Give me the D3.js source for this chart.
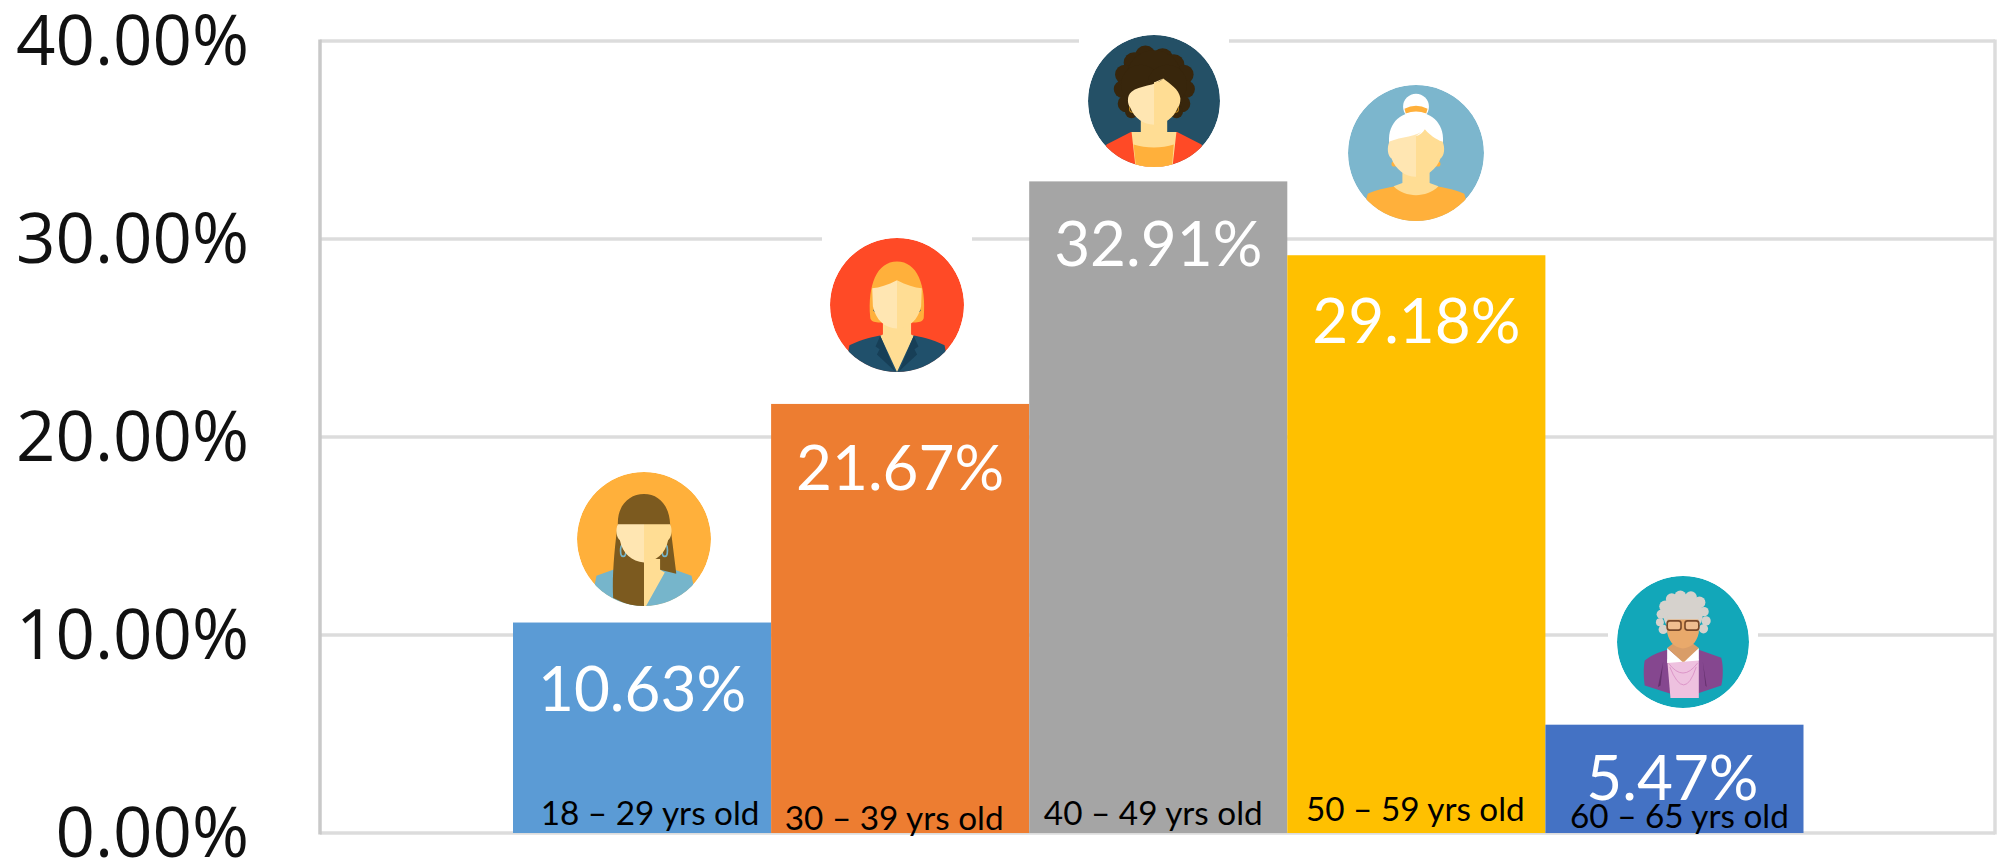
<!DOCTYPE html>
<html><head><meta charset="utf-8">
<script src="https://cdn.jsdelivr.net/npm/d3@7/dist/d3.min.js"></script>
<style>html,body{margin:0;background:#fff}svg{display:block}</style></head>
<body><svg id="c" width="1997" height="864"></svg>
<script>
// ---- data ----
const categories = ["18 – 29 yrs old","30 – 39 yrs old","40 – 49 yrs old","50 – 59 yrs old","60 – 65 yrs old"];
const shares = [10.63,21.67,32.91,29.18,5.47];
const yTicks = [0,10,20,30,40];
const barColors = ["#5B9BD5","#ED7D31","#A5A5A5","#FFC000","#4472C4"];

// ---- layout ----
const svg = d3.select("#c");
const x = d3.scaleBand().domain(categories).range([513,1803.5]).padding(0);
const y = d3.scaleLinear().domain([0,40]).range([833,41]);
const SK1="#FFE6B2", SK2="#FFDD94", ORG="#FFB03B";

// per-bar hand placement relative to the bar centre / top / baseline
const valueOffset = [[0,88],[0,86],[0,85],[0,88],[-2,75]];
const catOffset   = [[8,-8],[-6,-3],[-5,-8],[-1,-12],[5,-5]];
const avatarPos   = [[644,539,67],[897,305,67],[1154,101,66],[1416,153,68],[1683,642,66]];
const haloHalf = 75;

// gridlines + frame
const g = svg.append("g");
g.selectAll("line.grid").data(yTicks).join("line").attr("class","grid")
  .attr("x1",320).attr("x2",1995).attr("y1",d=>y(d)).attr("y2",d=>y(d))
  .attr("stroke","#dcdcdc").attr("stroke-width",3.5);
g.append("line").attr("x1",320).attr("x2",320).attr("y1",39.5).attr("y2",834.5).attr("stroke","#c9c9c9").attr("stroke-width",3.5);
g.append("line").attr("x1",1995).attr("x2",1995).attr("y1",39.5).attr("y2",834.5).attr("stroke","#dcdcdc").attr("stroke-width",3.5);

// y axis labels through d3.axisLeft
const ax = svg.append("g").attr("transform","translate(249,2)")
  .call(d3.axisLeft(y).tickValues(yTicks).tickSize(0).tickPadding(0).tickFormat(d=>d3.format(".2f")(d)+"%"));
ax.select(".domain").remove();
ax.selectAll("text").attr("font-family","'Open Sans','Noto Sans',sans-serif").attr("font-size",69)
  .attr("fill","#111").attr("dy","0.31em");

// white halos of the pasted pictures (interrupt the gridlines)
svg.append("g").selectAll("rect").data(avatarPos).join("rect")
  .attr("x",d=>d[0]-haloHalf).attr("y",d=>d[1]-haloHalf).attr("width",haloHalf*2).attr("height",haloHalf*2).attr("fill","#fff");

// bars
svg.append("g").selectAll("rect").data(shares).join("rect")
  .attr("x",(d,i)=>x(categories[i])).attr("y",d=>y(d))
  .attr("width",x.bandwidth()).attr("height",d=>y(0)-y(d))
  .attr("fill",(d,i)=>barColors[i]);

// value labels
svg.append("g").selectAll("text").data(shares).join("text")
  .attr("x",(d,i)=>x(categories[i])+x.bandwidth()/2+valueOffset[i][0])
  .attr("y",(d,i)=>y(d)+valueOffset[i][1])
  .attr("text-anchor","middle").attr("font-family","Lato,sans-serif").attr("font-size",62)
  .attr("fill","#fff").text(d=>d.toFixed(2)+"%");

// category labels
svg.append("g").selectAll("text").data(categories).join("text")
  .attr("x",(d,i)=>x(d)+x.bandwidth()/2+catOffset[i][0])
  .attr("y",(d,i)=>y(0)+catOffset[i][1])
  .attr("text-anchor","middle").attr("font-family","Lato,sans-serif").attr("font-size",33.3)
  .attr("fill","#000").text(d=>d);

// ---- avatars (drawn in a unit of r = 100) ----
function P(s,d,f){return s.append("path").attr("d",d).attr("fill",f);}
function C(s,cx,cy,r,f){return s.append("circle").attr("cx",cx).attr("cy",cy).attr("r",r).attr("fill",f);}
function ring(s,cx,cy,rx,ry,c,w){return s.append("ellipse").attr("cx",cx).attr("cy",cy).attr("rx",rx).attr("ry",ry).attr("fill","none").attr("stroke",c).attr("stroke-width",w);}
const painters = [
 s=>{ // long brown hair
  P(s,"M-71,55 L-44,45 L44,45 L71,55 L80,100 L-80,100Z","#76B5CB");
  P(s,"M-39,-22 C-40,-50 -22,-67 0,-67 C22,-67 38,-50 39,-22 L48,50 L48,52 L24,46 L0,40 L0,102 C-20,102 -36,92 -46,88 C-48,60 -44,10 -39,-22Z","#7C5A1F");
  P(s,"M0,30 L24,30 L24,46 L31,50 L2,102 L0,102Z",SK2);
  ring(s,-31,17,4,9,"#76B5CB",2.5); ring(s,31,17,4,9,"#76B5CB",2.5);
  P(s,"M0,-22 L-39,-22 C-43,-14 -41,-2 -36,2 C-32,22 -18,34 0,35Z",SK1);
  P(s,"M0,-22 L39,-22 C43,-14 41,-2 36,2 C32,22 18,34 0,35Z",SK2);
 },
 s=>{ // blonde bob, navy jacket
  P(s,"M-40,18 C-44,-30 -30,-65 0,-65 C30,-65 44,-30 40,18 C40,24 34,26 28,26 L-28,26 C-34,26 -40,24 -40,18Z",ORG);
  P(s,"M-71,60 C-50,50 -35,47 -22,45 L22,45 C35,47 50,50 71,60 L80,110 L-80,110Z","#20506B");
  P(s,"M-21,25 L21,25 L21,44 L25,46 L0,100 L-25,46 L-21,44Z",SK2);
  P(s,"M-25,46 L-32,62 L-26,66 L-30,74 L-3,99Z","#173F57");
  P(s,"M25,46 L32,62 L26,66 L30,74 L3,99Z","#173F57");
  C(s,-32,8,3,"#20506B"); C(s,32,8,3,"#20506B");
  P(s,"M0,-37 C-14,-30 -26,-26 -37,-25 L-36,2 C-32,22 -18,35 0,35Z",SK1);
  P(s,"M0,-37 C14,-30 26,-26 37,-25 L36,2 C32,22 18,35 0,35Z",SK2);
 },
 s=>{ // dark curls, red jacket
  [[-13,-68,16],[13,-64,16],[-30,-58,16],[30,-55,16],[-44,-40,15],[45,-40,15],[-48,-18,13],[49,-18,13],[-42,4,13],[42,4,13],[-34,16,10],[34,16,10],[0,-35,42],[-20,-25,30],[20,-25,30]]
    .forEach(a=>C(s,a[0],a[1],a[2],"#38260C"));
  P(s,"M-72,66 L-35,47 L35,47 L72,66 L85,110 L-85,110Z","#FF4A26");
  P(s,"M-20,20 L20,20 L20,47 L34,47 L28,100 L-28,100 L-34,47 L-20,47Z",SK2);
  P(s,"M-31,66 C-12,72 12,72 30,66 L27,102 L-27,102Z",ORG);
  ring(s,-33,12,4,5,"#C28A1C",1.6); ring(s,33,12,4,5,"#C28A1C",1.6);
  P(s,"M14,-34 C2,-22 -22,-24 -34,-14 C-42,-8 -40,6 -36,10 C-30,26 -16,36 0,36 L0,-28Z",SK1);
  P(s,"M0,-28 C6,-28 10,-30 14,-34 C24,-26 38,-18 40,-4 C40,4 38,8 36,10 C30,26 16,36 0,36Z",SK2);
 },
 s=>{ // white bun, orange top
  C(s,0,-68,19,"#fff");
  P(s,"M-17,-65 Q0,-74 17,-65 L15,-58 Q0,-64 -15,-58Z",ORG);
  P(s,"M-39,-10 C-44,-42 -24,-60 0,-60 C24,-60 44,-42 39,-10Z","#fff");
  P(s,"M-71,60 C-55,52 -35,50 -20,47 L20,47 C35,50 55,52 71,60 L85,110 L-85,110Z",ORG);
  P(s,"M-33,49 C-24,58 -12,62 0,62 C12,62 24,58 33,49 L20,44 L20,22 L-20,22 L-20,44Z",SK2);
  C(s,-32,16,4,ORG); C(s,32,16,4,ORG);
  P(s,"M13,-35 C2,-24 -22,-24 -39,-17 C-43,-8 -42,4 -36,8 C-30,24 -16,35 0,35 L0,-25Z",SK1);
  P(s,"M0,-25 C5,-26 10,-30 13,-35 C22,-24 36,-17 39,-17 C43,-8 42,4 36,8 C30,24 16,35 0,35Z",SK2);
 },
 s=>{ // elderly, grey curls, glasses, purple cardigan
  [[-4,-69,9],[12,-68,9],[-17,-65,9],[25,-60,9],[-27,-54,9],[32,-46,7],[-33,-42,7],[-35,-30,6],[35,-32,7],[31,-20,7],[-30,-19,7],[0,-42,30]]
    .forEach(a=>C(s,a[0],a[1],a[2],"#D6D2CD"));
  P(s,"M-58,28 C-48,20 -38,16 -25,12 L25,12 L58,24 C62,40 60,58 58,66 L22,78 L-20,78 L-58,66 C-60,52 -60,38 -58,28Z","#85478F");
  P(s,"M-38,68 L-30,30 L-34,66Z","#64306D");
  P(s,"M36,68 L30,30 L34,66Z","#64306D");
  P(s,"M-24,26 L24,26 L24,85 L-19,85Z","#EEC1DF");
  P(s,"M-24,9 L-2,28 L24,9 L24,28 L-24,32Z","#fff");
  P(s,"M-24,9 L-12,0 L12,0 L24,9 L2,30 L-1,30Z","#D99D68");
  P(s,"M-23,-38 C-10,-34 10,-34 23,-38 L24,-14 C20,4 10,8 0,10 C-10,8 -20,4 -24,-14Z","#E9A96B");
  P(s,"M-24,-40 L-16,-44 L-10,-38 L-4,-44 L4,-38 L10,-44 L16,-40 L24,-42 L24,-34 L-24,-34Z","#D6D2CD");
  s.append("rect").attr("x",-24).attr("y",-32).attr("width",21).attr("height",14).attr("rx",4).attr("fill","#F0BE90").attr("stroke","#7B4A2A").attr("stroke-width",2.5);
  s.append("rect").attr("x",3).attr("y",-32).attr("width",21).attr("height",14).attr("rx",4).attr("fill","#F0BE90").attr("stroke","#7B4A2A").attr("stroke-width",2.5);
  s.append("path").attr("d","M-22,32 Q0,62 22,32 M-20,38 Q2,92 20,38").attr("fill","none").attr("stroke","#D88FC4").attr("stroke-width",1.3);
 }
];
const bg = ["#FFB03B","#FF4A26","#245066","#7CB6CD","#12A7B9"];
const defs = svg.append("defs");
defs.append("clipPath").attr("id","disc").append("circle").attr("r",100);
avatarPos.forEach((p,i)=>{
  const a = svg.append("g").attr("transform",`translate(${p[0]},${p[1]}) scale(${p[2]/100})`).attr("clip-path","url(#disc)");
  C(a,0,0,100,bg[i]);
  painters[i](a);
});
</script></body></html>
